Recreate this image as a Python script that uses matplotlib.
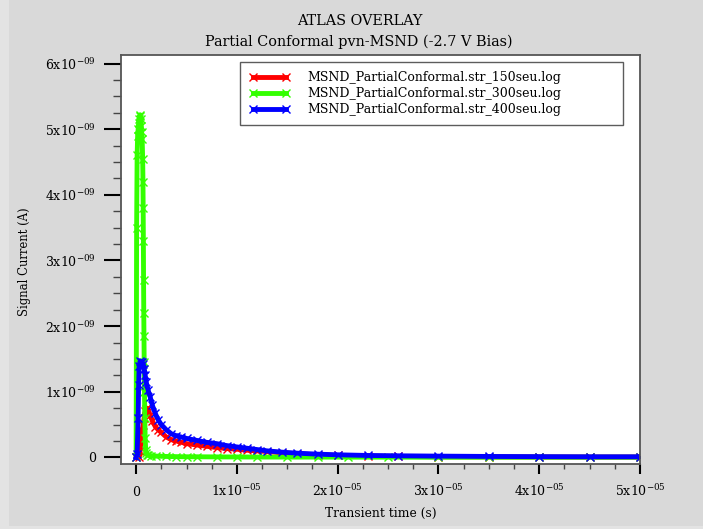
import numpy as np
import matplotlib.pyplot as plt
from matplotlib.patches import Rectangle
from matplotlib.ticker import FixedLocator, AutoMinorLocator

plt.rcParams['font.family'] = ['DejaVu Serif']
plt.rcParams['mathtext.fontset'] = 'dejavuserif'
plt.rcParams['mathtext.default'] = 'regular'

# time in microseconds, current in nA
t_150 = [0, 0.3, 0.4, 0.5, 0.6, 0.7, 0.8, 0.9, 1.0, 1.1, 1.2, 1.4, 1.6, 1.9, 2.2,
         2.5, 3.0, 3.5, 4.0, 4.5, 5.0, 6, 7, 8, 9, 10, 11, 12, 13, 14.5, 16, 18,
         20, 23, 26, 30, 35, 40, 45, 50]
i_150 = [0, 0.0, 0.1, 0.25, 0.4, 0.5, 0.6, 0.7, 0.74, 0.75, 0.71, 0.64, 0.56, 0.47,
         0.42, 0.38, 0.31, 0.27, 0.25, 0.23, 0.21, 0.19, 0.17, 0.15, 0.135, 0.125,
         0.11, 0.1, 0.09, 0.07, 0.055, 0.04, 0.03, 0.02, 0.015, 0.01, 0.008,
         0.006, 0.005, 0.005]

t_300 = [0, 0.05, 0.1, 0.15, 0.2, 0.25, 0.3, 0.35, 0.4, 0.45, 0.5, 0.55, 0.6, 0.65,
         0.68, 0.7, 0.72, 0.74, 0.76, 0.78, 0.8, 0.83, 0.86, 0.9, 0.95, 1.0, 1.1,
         1.2, 1.5, 2, 3, 4, 5, 6, 8, 10, 12, 15, 18, 21, 25, 30, 35, 40, 45, 50]
i_300 = [0, 3.5, 4.6, 4.9, 5.0, 5.1, 5.15, 5.2, 5.22, 5.15, 5.05, 4.95, 4.85, 4.55,
         4.2, 3.8, 3.3, 2.7, 2.2, 1.85, 1.45, 1.0, 0.6, 0.3, 0.12, 0.06, 0.04,
         0.03, 0.025, 0.02, 0.015, 0.012, 0.01, 0.01, 0.008, 0.007, 0.006, 0.005,
         0.005, 0.004, 0.004, 0.003, 0.003, 0.003, 0.003, 0.003]

t_400 = [0, 0.1, 0.2, 0.25, 0.3, 0.4, 0.5, 0.6, 0.7, 0.8, 0.9, 1.0, 1.2, 1.4, 1.6,
         1.9, 2.2, 2.5, 3.0, 3.5, 4.0, 4.5, 5.0, 6, 7, 8, 9, 10, 11, 12, 13, 14.5,
         16, 18, 20, 23, 26, 30, 35, 40, 45, 50]
i_400 = [0, 0.05, 0.6, 1.1, 1.4, 1.47, 1.46, 1.45, 1.42, 1.35, 1.25, 1.15, 1.02,
         0.92, 0.8, 0.67, 0.57, 0.5, 0.42, 0.36, 0.33, 0.31, 0.29, 0.26, 0.23,
         0.21, 0.18, 0.16, 0.14, 0.12, 0.1, 0.08, 0.065, 0.05, 0.04, 0.03, 0.025,
         0.02, 0.015, 0.012, 0.01, 0.01]

labels = ['MSND_PartialConformal.str_150seu.log',
          'MSND_PartialConformal.str_300seu.log',
          'MSND_PartialConformal.str_400seu.log']
colors = ['#ff0000', '#33ff00', '#0000ff']

x_ticks = [0, 1e-5, 2e-5, 3e-5, 4e-5, 5e-5]
x_ticklabels = ['0', '1x10$^{-05}$', '2x10$^{-05}$', '3x10$^{-05}$',
                '4x10$^{-05}$', '5x10$^{-05}$']
y_ticks = [0, 1e-9, 2e-9, 3e-9, 4e-9, 5e-9, 6e-9]
y_ticklabels = ['0', '1x10$^{-09}$', '2x10$^{-09}$', '3x10$^{-09}$',
                '4x10$^{-09}$', '5x10$^{-09}$', '6x10$^{-09}$']

W, H = 703, 529
fig = plt.figure(figsize=(W / 100, H / 100), dpi=100, facecolor='#e3e3e3')
# slightly darker window area (lighter strip on left and bottom edge)
fig.patches.append(Rectangle((9 / W, 3 / H), 1, 1, transform=fig.transFigure,
                             facecolor='#d9d9d9', edgecolor='none', zorder=-10))

ax = fig.add_axes([121 / W, 1 - 464 / H, 519 / W, 409 / H])
ax.set_facecolor('white')

series = [(t_150, i_150), (t_300, i_300), (t_400, i_400)]
for (t, cur), lab, c in zip(series, labels, colors):
    ax.plot(np.array(t) * 1e-6, np.array(cur) * 1e-9, color=c, lw=3.5,
            marker='x', ms=5.5, mew=1, label=lab)

ax.set_xlim(-1.5e-6, 5e-5)
ax.set_ylim(-0.1e-9, 6.13e-9)
ax.xaxis.set_major_locator(FixedLocator(x_ticks))
ax.set_xticklabels(x_ticklabels)
ax.yaxis.set_major_locator(FixedLocator(y_ticks))
ax.set_yticklabels(y_ticklabels)
ax.xaxis.set_minor_locator(AutoMinorLocator(4))
ax.yaxis.set_minor_locator(AutoMinorLocator(4))

ax.tick_params(axis='y', which='major', direction='out', length=12.5, width=1.5,
               labelsize=9, color='black', pad=5.5)
ax.tick_params(axis='y', which='minor', direction='out', length=6, width=1,
               color='#444444')
ax.tick_params(axis='x', which='major', direction='out', length=7, width=1.5,
               labelsize=9, color='black', pad=16)
ax.tick_params(axis='x', which='minor', direction='out', length=3.8, width=1,
               color='#444444')
for lbl in ax.get_xticklabels():
    lbl.set_verticalalignment('baseline')

for sp in ax.spines.values():
    sp.set_color('#555555')
    sp.set_linewidth(1.3)

fig.text(381 / W, 1 - 513 / H, 'Transient time (s)', fontsize=8.8,
         ha='center', va='center')
fig.text(25 / W, 1 - 262 / H, 'Signal Current (A)', fontsize=8.4,
         rotation=90, ha='center', va='center')
fig.text(360 / W, 1 - 21 / H, 'ATLAS OVERLAY', fontsize=10.4,
         ha='center', va='center')
fig.text(359 / W, 1 - 42 / H, 'Partial Conformal pvn-MSND (-2.7 V Bias)',
         fontsize=10.4, ha='center', va='center')

leg = ax.legend(loc='upper left', bbox_to_anchor=(0.229, 0.3, 0.738, 0.683),
                mode='expand', fontsize=9, frameon=True, fancybox=False,
                numpoints=2, handlelength=3.3, labelspacing=0.24,
                borderpad=0.72, handletextpad=1.35, borderaxespad=0)
leg.get_frame().set_edgecolor('#333333')
leg.get_frame().set_linewidth(1.0)

fig.savefig('out.png', dpi=100, facecolor=fig.get_facecolor())
